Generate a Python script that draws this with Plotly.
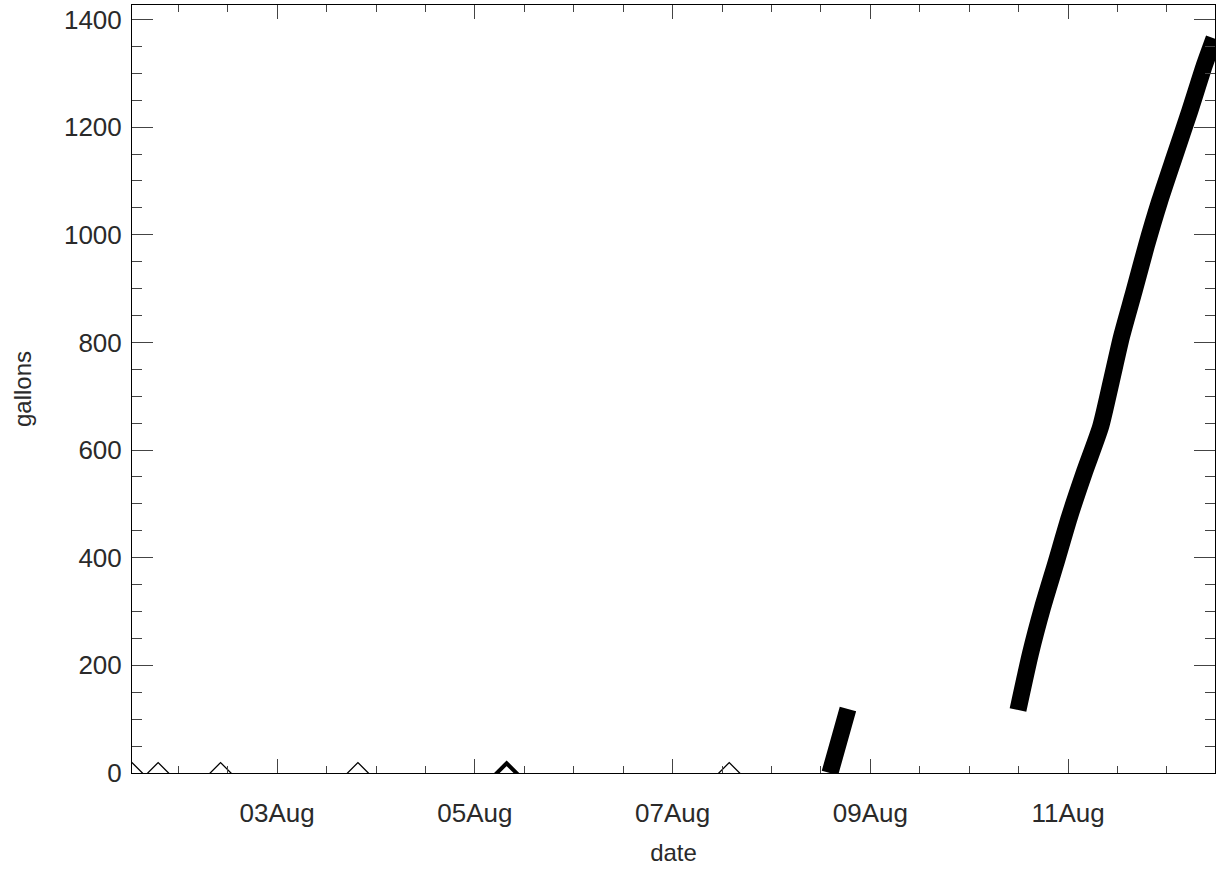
import plotly.graph_objects as go

# Thick line series (gallons); None marks a gap in the record
line_times = [
    "2012-08-08 14:12", "2012-08-08 16:20", "2012-08-08 18:34",
    None,
    "2012-08-10 11:51", "2012-08-10 14:53", "2012-08-10 17:48",
    "2012-08-10 21:03", "2012-08-11 00:19", "2012-08-11 03:59",
    "2012-08-11 07:54", "2012-08-11 10:29", "2012-08-11 13:00",
    "2012-08-11 16:02", "2012-08-11 19:00", "2012-08-11 22:16",
    "2012-08-12 01:55", "2012-08-12 05:36", "2012-08-12 09:06",
    "2012-08-12 11:27",
]
line_gallons = [
    0, 58, 119,
    None,
    117, 222, 307,
    390, 475, 559,
    643, 727, 811,
    895, 979, 1063,
    1147, 1231, 1315,
    1365,
]

# Diamond symbols at zero
diamond_times = [
    "2012-08-01 12:45", "2012-08-01 19:06", "2012-08-02 10:15",
    "2012-08-03 19:36", "2012-08-07 13:45",
]
diamond_gallons = [0, 0, 0, 0, 0]
bold_diamond_times = ["2012-08-05 07:42"]
bold_diamond_gallons = [0]

x_range = ["2012-08-01 12:45", "2012-08-12 11:41"]
y_range = [0, 1427]

font_family = "Liberation Sans, Arial, Helvetica, sans-serif"
text_color = "#2a2a2a"
tick_color = "#444444"

fig = go.Figure()
fig.add_trace(go.Scatter(
    x=line_times, y=line_gallons, mode="lines",
    line=dict(color="black", width=17, shape="spline", smoothing=0.6),
    connectgaps=False, showlegend=False,
))
fig.add_trace(go.Scatter(
    x=diamond_times, y=diamond_gallons, mode="markers",
    marker=dict(symbol="diamond-open", size=16, color="black",
                line=dict(width=1.3, color="black")),
    showlegend=False,
))
fig.add_trace(go.Scatter(
    x=bold_diamond_times, y=bold_diamond_gallons, mode="markers",
    marker=dict(symbol="diamond-open", size=15, color="black",
                line=dict(width=4, color="black")),
    showlegend=False,
))

fig.update_layout(
    width=1220, height=873,
    margin=dict(l=132, r=5, t=5, b=100),
    paper_bgcolor="white", plot_bgcolor="white",
    font=dict(family=font_family, size=26, color=text_color),
    showlegend=False,
)
fig.update_xaxes(
    type="date", range=x_range,
    tick0="2012-08-03", dtick=2 * 86400000, tickformat="%d%b",
    ticks="inside", ticklen=14, tickwidth=1, tickcolor=tick_color,
    minor=dict(dtick=43200000, ticks="inside", ticklen=7, tickwidth=1, tickcolor=tick_color),
    showline=True, linecolor="black", linewidth=1, mirror="ticks",
    showgrid=False, zeroline=False,
    title=dict(text="date", font=dict(size=24, color=text_color), standoff=16),
    tickfont=dict(size=26, color=text_color),
    ticklabelstandoff=17,
)
fig.update_yaxes(
    range=y_range, tick0=0, dtick=200,
    ticks="inside", ticklen=21, tickwidth=1, tickcolor=tick_color,
    minor=dict(dtick=50, ticks="inside", ticklen=10, tickwidth=1, tickcolor=tick_color),
    showline=True, linecolor="black", linewidth=1, mirror="ticks",
    showgrid=False, zeroline=False,
    title=dict(text="gallons", font=dict(size=24, color=text_color), standoff=25),
    tickfont=dict(size=26, color=text_color),
    ticklabelstandoff=4,
)

fig.write_html("out.html", config={"displayModeBar": False},
               post_script="document.body.style.margin='0';")
